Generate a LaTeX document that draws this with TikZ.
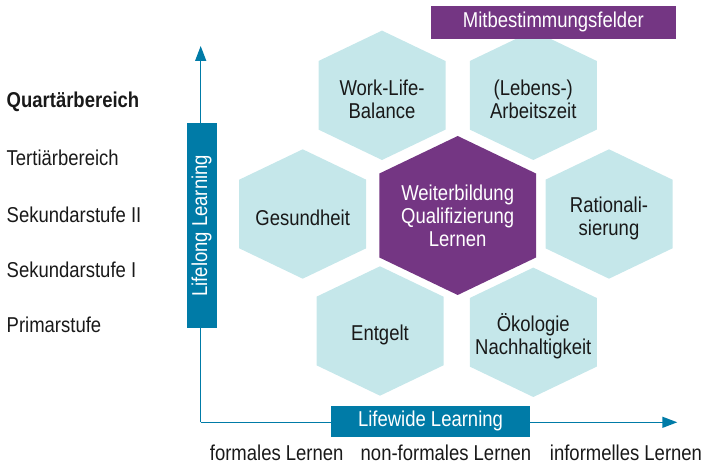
\documentclass[tikz,border=0pt]{standalone}
\usepackage{fontspec}
\setmainfont{Liberation Sans}[FakeStretch=0.86]
\usetikzlibrary{arrows.meta}
\definecolor{mbviolett}{RGB}{116,54,131}
\definecolor{llblau}{RGB}{0,123,167}
\definecolor{hexhell}{RGB}{197,231,234}
\tikzset{
  schrift/.style={font=\fontsize{21.5}{23}\selectfont, inner sep=0pt},
  feld/.style={schrift, align=center, text=black!90},
  stufe/.style={schrift, anchor=west, text=black!90},
  achse/.style={draw=llblau, line width=1.4pt, -{Triangle[width=11pt,length=15pt]}},
  balken/.style={schrift, fill=llblau, text=white}
}
\begin{document}
\begin{tikzpicture}[x=1pt, y=-1pt]
    \useasboundingbox (0, 0) rectangle (716, 465);
    % axes
    \coordinate (ursprung) at (200.7, 422.3);
    \coordinate (yende) at (200.7, 46);
    \coordinate (xende) at (677.3, 422.3);
    \draw[achse] (ursprung) -- (yende);
    \draw[achse] (ursprung) -- (xende);
    \node[balken, rotate=90, minimum width=205pt, minimum height=30pt] (lifelong) at (201.5, 225.8) {Lifelong Learning};
    \node[balken, minimum width=199pt, minimum height=30.7pt] (lifewide) at (430.5, 421.3) {Lifewide Learning};
    % hexagons
    \foreach \cx/\cy/\name/\txt in {382/95.3/worklife/{Work-Life-\\Balance},
        533.3/95.3/arbeitszeit/{(Lebens-)\\Arbeitszeit},
        302.7/214/gesundheit/{Gesundheit},
        609/214/rational/{Rationali-\\sierung},
        380/331/entgelt/{Entgelt},
        533.3/332.3/oekologie/{Ökologie\\Nachhaltigkeit}} {
        \fill[hexhell, shift={(\cx, \cy)}] (0, -64.7) -- (63.5, -34.3) -- (63.5, 34.3) -- (0, 64.7) -- (-63.5, 34.3) -- (-63.5, -34.3) -- cycle;
        \node[feld] (\name) at (\cx, \cy + 4) {\txt};
    }
    \fill[mbviolett, shift={(457.7, 215.5)}] (0, -79.5) -- (78.3, -42) -- (78.3, 42) -- (0, 79.5) -- (-78.3, 42) -- (-78.3, -42) -- cycle;
    \node[feld, text=white] (weiterbildung) at (457.7, 215.5) {Weiterbildung\\Qualifizierung\\Lernen};
    \node[schrift, fill=mbviolett, text=white, minimum width=245.3pt, minimum height=32.7pt] (mitbest) at (553.3, 22.3) {Mitbestimmungsfelder};
    % levels
    \node[stufe, font=\fontsize{21.5}{23}\selectfont\bfseries] (quartaer) at (6.5, 101.7) {Quartärbereich};
    \node[stufe] (tertiaer) at (6.5, 158.3) {Tertiärbereich};
    \node[stufe] (sek2) at (6.5, 215) {Sekundarstufe II};
    \node[stufe] (sek1) at (6.5, 270) {Sekundarstufe I};
    \node[stufe] (primar) at (6.5, 325) {Primarstufe};
    % learning forms
    \node[feld] (formal) at (276.7, 453) {formales Lernen};
    \node[feld] (nonformal) at (446, 453) {non-formales Lernen};
    \node[feld] (informell) at (626, 453) {informelles Lernen};
\end{tikzpicture}
\end{document}
